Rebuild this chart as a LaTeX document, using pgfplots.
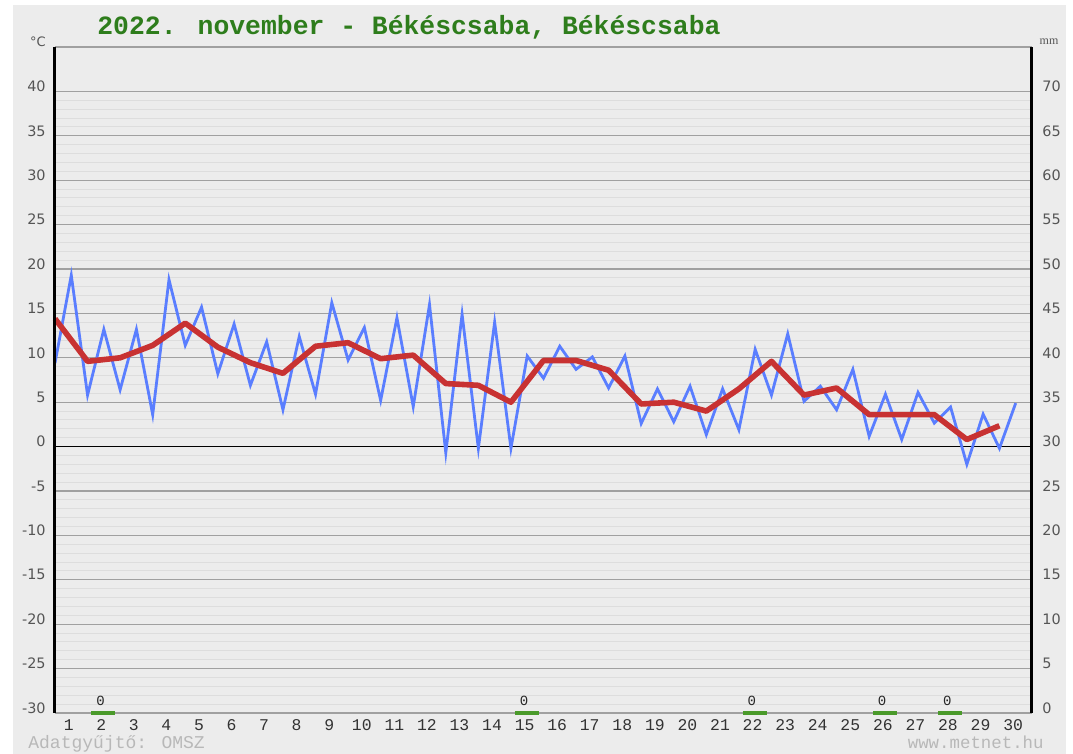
\documentclass[border=0pt]{standalone}
\usepackage{pgfplots}
\pgfplotsset{compat=1.18}
\usepackage{fontspec}
\setmainfont{DejaVu Sans}
\newfontfamily\mono{Liberation Mono}
\newfontfamily\serifm{Liberation Serif}
\definecolor{bg}{HTML}{ECECEC}
\definecolor{majg}{HTML}{A0A0A0}
\definecolor{ming}{HTML}{DDDDDD}
\definecolor{bluel}{HTML}{5A7EFF}
\definecolor{redl}{HTML}{C83232}
\definecolor{titleg}{HTML}{2E7D1C}
\definecolor{barg}{HTML}{4A9A2A}
\definecolor{lab}{HTML}{555555}
\definecolor{foot}{HTML}{B8B8B8}
\begin{document}
\begin{tikzpicture}
\fill[white] (0,0) rectangle (536.5pt,377pt);
\fill[bg] (6.5pt,0) rectangle (533pt,374.5pt);
\begin{axis}[at={(27.5pt,20.5pt)}, anchor=south west, scale only axis,
  width=488.5pt, height=333pt,
  xmin=0, xmax=30, ymin=-30, ymax=45, clip=false,
  axis line style={draw=none},
  major tick length=0pt, minor tick length=0pt,
  ytick={-30,-25,...,40},
  extra y ticks={45}, extra y tick labels={}, extra tick style={grid=major},
  minor y tick num=4,
  ymajorgrids, yminorgrids,
  major grid style={majg, line width=0.55pt},
  minor grid style={ming, line width=0.5pt},
  /pgf/number format/assume math mode=true,
  yticklabel style={font=\fontsize{7.2}{7.2}\selectfont, text=lab, inner sep=0pt, anchor=east, xshift=-4.5pt, yshift=2.5pt},
  xtick={0.42,1.42,...,29.42},
  xticklabels={1,2,3,4,5,6,7,8,9,10,11,12,13,14,15,16,17,18,19,20,21,22,23,24,25,26,27,28,29,30},
  xticklabel style={font=\mono\fontsize{8.2}{8.2}\selectfont, text=black!80, inner sep=0pt, anchor=base, yshift=-9pt},
]
\draw[black, line width=0.8pt] (axis cs:0,0) -- (axis cs:30,0);
\addplot[bluel, line width=1.4pt, line join=miter] coordinates {
(0,9.4) (0.5,19.3) (1,5.8) (1.5,13.2) (2,6.4) (2.5,13.2) (3,3.6) (3.5,18.8)
(4,11.4) (4.5,15.7) (5,8.2) (5.5,13.8) (6,6.9) (6.5,11.8) (7,4.15) (7.5,12.4)
(8,5.9) (8.5,16.2) (9,9.75) (9.5,13.4) (10,5.2) (10.5,14.5) (11,4.5) (11.5,16.0)
(12,-0.7) (12.5,14.9) (13,-0.2) (13.5,14.0) (14,-0.2) (14.5,10.2) (15,7.7) (15.5,11.3)
(16,8.7) (16.5,10.1) (17,6.6) (17.5,10.2) (18,2.6) (18.5,6.5) (19,2.8) (19.5,6.8)
(20,1.35) (20.5,6.5) (21,1.9) (21.5,10.95) (22,5.8) (22.5,12.7) (23,5.1) (23.5,6.8)
(24,4.15) (24.5,8.7) (25,1.15) (25.5,5.9) (26,0.8) (26.5,6.1) (27,2.65) (27.5,4.45)
(28,-2.0) (28.5,3.65) (29,-0.2) (29.5,4.9)
};
\addplot[redl, line width=2.8pt, line join=round] coordinates {
(0,14.4) (1,9.6) (2,10.0) (3,11.4) (4,13.9) (5,11.2) (6,9.45) (7,8.25) (8,11.3) (9,11.7)
(10,9.9) (11,10.3) (12,7.1) (13,6.9) (14,5.0) (15,9.7) (16,9.7) (17,8.6) (18,4.8) (19,5.0)
(20,4.0) (21,6.5) (22,9.6) (23,5.8) (24,6.6) (25,3.6) (26,3.6) (27,3.6) (28,0.8) (29,2.35)
};
\addplot[barg, line width=1.6pt] coordinates {(1.12,-30) (1.85,-30)};
\addplot[barg, line width=1.6pt] coordinates {(14.12,-30) (14.85,-30)};
\addplot[barg, line width=1.6pt] coordinates {(21.12,-30) (21.85,-30)};
\addplot[barg, line width=1.6pt] coordinates {(25.12,-30) (25.85,-30)};
\addplot[barg, line width=1.6pt] coordinates {(27.12,-30) (27.85,-30)};
\foreach \d in {1.4,14.4,21.4,25.4,27.4}{
  \edef\tmp{\noexpand\node[font=\noexpand\mono\noexpand\fontsize{7}{7}\noexpand\selectfont, text=black!85, inner sep=0pt, anchor=base] at (axis cs:\d,-29.2) {0};}\tmp
}
\draw[black, line width=1.5pt] (rel axis cs:0,0) -- (rel axis cs:0,1);
\draw[black, line width=1.5pt] (rel axis cs:1,0) -- (rel axis cs:1,1);
\end{axis}
\begin{axis}[at={(27.5pt,20.5pt)}, anchor=south west, scale only axis,
  width=488.5pt, height=333pt,
  xmin=0, xmax=30, ymin=0, ymax=75,
  axis line style={draw=none}, hide x axis,
  major tick length=0pt,
  ytick={0,5,...,70}, ytick pos=right, yticklabel pos=right,
  /pgf/number format/assume math mode=true,
  yticklabel style={font=\fontsize{7.2}{7.2}\selectfont, text=lab, inner sep=0pt, anchor=west, xshift=5pt, yshift=2.5pt},
]
\end{axis}
\node[anchor=base west, inner sep=0pt, font=\mono\bfseries\fontsize{13.2}{13.2}\selectfont, text=titleg] at (48.5pt,359.5pt) {2022. november - Békéscsaba, Békéscsaba};
\node[anchor=center, inner sep=0pt, font=\fontsize{6.5}{6.5}\selectfont, text=lab] at (19pt,356pt) {°C};
\node[anchor=center, inner sep=0pt, font=\serifm\fontsize{6}{6}\selectfont, text=lab] at (524.5pt,356pt) {mm};
\node[anchor=base west, inner sep=0pt, font=\mono\fontsize{9}{9}\selectfont, text=foot] at (14pt,2.5pt) {Adatgyűjtő: OMSZ};
\node[anchor=base east, inner sep=0pt, font=\mono\fontsize{8.7}{8.7}\selectfont, text=foot] at (522pt,2.5pt) {www.metnet.hu};
\end{tikzpicture}
\end{document}
